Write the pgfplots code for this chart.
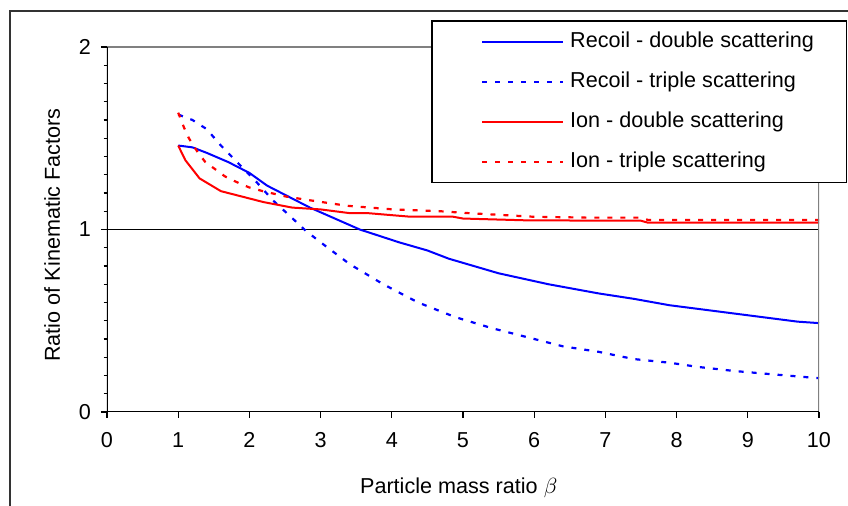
\documentclass[border=0pt]{standalone}
\usepackage{fontspec}
\setmainfont{Liberation Sans}
\usepackage{pgfplots}
\pgfplotsset{compat=1.18}
\begin{document}
\fontsize{10.8}{13}\selectfont
\begin{tikzpicture}
\useasboundingbox (-53.5pt,-47pt) rectangle (370.5pt,206pt);
\draw[line width=1pt, color=black!80] (-48.5pt,-48pt) -- (-48.5pt,200.5pt) -- (371pt,200.5pt);
\begin{axis}[
  scale only axis, width=356pt, height=182.5pt,
  at={(0pt,0pt)}, anchor=south west,
  xmin=0, xmax=10, ymin=0, ymax=2,
  xtick={0,1,2,3,4,5,6,7,8,9,10}, ytick={0,1,2}, minor y tick num=9,
  tick align=outside, xtick pos=bottom, ytick pos=left,
  major tick length=3pt, minor tick length=1.7pt,
  tick style={black, line width=0.6pt},
  axis line style={draw=none},
  ymajorgrids, major grid style={black, line width=0.5pt},
  ticklabel style={font=\fontsize{10.8}{13}\selectfont},
  xticklabel style={yshift=-3.5pt},
  yticklabel style={xshift=-1.2pt},
  /pgf/number format/assume math mode=true,
  xlabel={Particle mass ratio $\beta$},
  ylabel={Ratio of Kinematic Factors},
  label style={font=\fontsize{10.8}{13}\selectfont},
  xlabel style={at={(axis description cs:0.494,-0.208)}, anchor=center},
  ylabel style={at={(axis description cs:-0.0772,0.485)}, anchor=center},
  legend cell align=left,
  legend style={at={(axis description cs:0.4565,1.0712)}, anchor=north west,
    draw=black, line width=0.6pt, fill=white, inner xsep=5pt, inner ysep=5.3pt,
    outer sep=0pt, row sep=9.3pt, column sep=3pt,
    nodes={inner sep=0pt, text height=8pt, text depth=2.6pt, font=\fontsize{10.8}{13}\selectfont}},
  legend image code/.code={\path (0pt,0pt); \draw[#1] (19.5pt,0pt) -- (60pt,0pt);},
]
\addplot[blue, line width=1pt] coordinates {
(1,1.46)(1.2,1.45)(1.4,1.42)(1.7,1.37)(2,1.31)(2.25,1.24)(2.5,1.19)(2.85,1.12)(3.2,1.06)(3.55,1.00)(4.1,0.93)(4.5,0.885)(4.8,0.84)(5.5,0.76)(6.2,0.70)(6.9,0.65)(7.4,0.62)(7.9,0.585)(8.3,0.565)(8.8,0.54)(9.3,0.515)(9.7,0.495)(10,0.487)};
\addlegendentry{\makebox[133pt][l]{Recoil - double scattering}}
\addplot[blue, line width=1.1pt, dash pattern=on 2.5pt off 4pt] coordinates {
(1,1.63)(1.2,1.60)(1.4,1.55)(1.6,1.46)(1.85,1.36)(2.1,1.26)(2.33,1.16)(2.58,1.07)(2.8,0.99)(3,0.93)(3.41,0.81)(3.88,0.70)(4.37,0.60)(4.89,0.52)(5.4,0.46)(5.9,0.41)(6.4,0.36)(6.9,0.33)(7.4,0.29)(7.9,0.27)(8.3,0.247)(8.8,0.225)(9.3,0.208)(10,0.185)};
\addlegendentry{Recoil - triple scattering}
\addplot[red, line width=1pt] coordinates {
(1,1.46)(1.1,1.38)(1.3,1.28)(1.6,1.21)(1.9,1.18)(2.2,1.15)(2.6,1.12)(3.0,1.11)(3.4,1.09)(3.65,1.09)(4.26,1.07)(4.86,1.07)(5.0,1.06)(5.9,1.05)(7.5,1.048)(7.6,1.037)(10,1.037)};
\addlegendentry{Ion - double scattering}
\addplot[red, line width=1.1pt, dash pattern=on 2.5pt off 4pt] coordinates {
(1,1.64)(1.08,1.56)(1.15,1.50)(1.28,1.42)(1.38,1.37)(1.52,1.33)(1.66,1.29)(1.82,1.26)(2,1.23)(2.19,1.21)(2.52,1.18)(2.85,1.16)(3.37,1.13)(4.02,1.11)(4.68,1.10)(5.06,1.09)(5.98,1.07)(6.74,1.065)(7.5,1.065)(7.6,1.052)(10,1.052)};
\addlegendentry{Ion - triple scattering}
\draw[line width=1pt, color=black!50] (rel axis cs:0,1) -- (rel axis cs:1,1) -- (rel axis cs:1,0);
\draw[line width=0.8pt, color=black] (rel axis cs:0,1) -- (rel axis cs:0,0) -- (rel axis cs:1,0);
\end{axis}
\end{tikzpicture}
\end{document}
